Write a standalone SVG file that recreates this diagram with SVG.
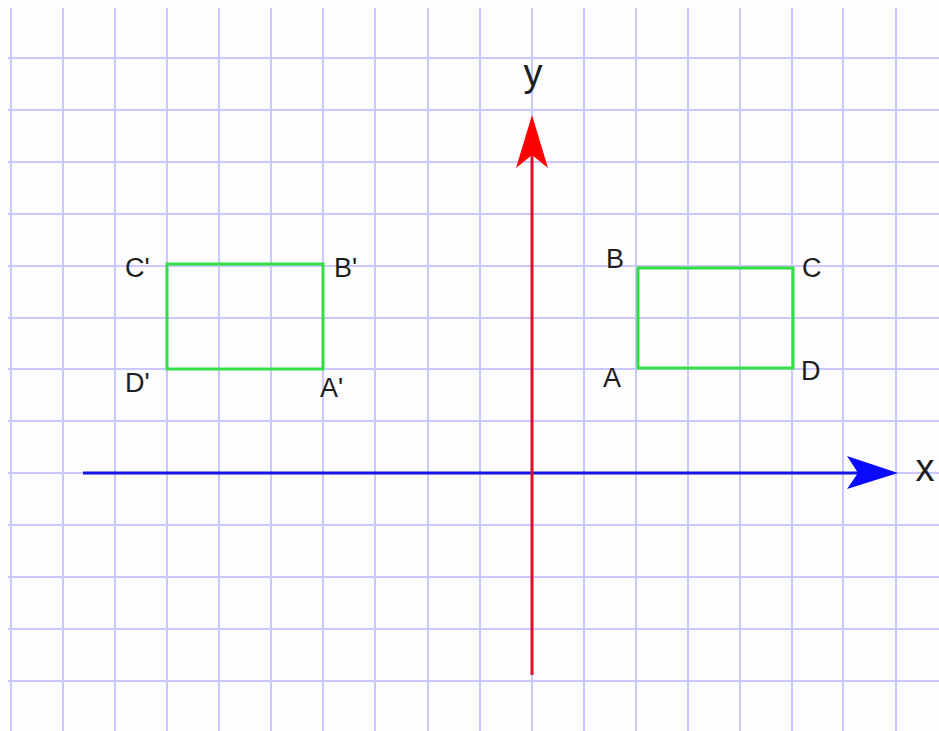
<svg xmlns="http://www.w3.org/2000/svg" width="939" height="731" viewBox="0 0 939 731">
  <style>
    .grid line { stroke: #c9c9ff; stroke-width: 2; }
    .rect { fill: none; stroke: #33dd44; stroke-width: 3; }
    .lbl { font-family: "Liberation Sans", Arial, sans-serif; font-size: 27px; fill: #1e1e1e; }
    .axlbl { font-family: "Liberation Sans", Arial, sans-serif; font-size: 38px; fill: #1e1e1e; text-anchor: middle; }
  </style>
  <rect width="939" height="731" fill="#fdfdff"/>
  <g id="grid" class="grid">
    <line x1="11" y1="8" x2="11" y2="731"/>
    <line x1="63" y1="8" x2="63" y2="731"/>
    <line x1="115" y1="8" x2="115" y2="731"/>
    <line x1="167" y1="8" x2="167" y2="731"/>
    <line x1="219" y1="8" x2="219" y2="731"/>
    <line x1="271" y1="8" x2="271" y2="731"/>
    <line x1="323" y1="8" x2="323" y2="731"/>
    <line x1="375" y1="8" x2="375" y2="731"/>
    <line x1="428" y1="8" x2="428" y2="731"/>
    <line x1="480" y1="8" x2="480" y2="731"/>
    <line x1="532" y1="8" x2="532" y2="731"/>
    <line x1="584" y1="8" x2="584" y2="731"/>
    <line x1="636" y1="8" x2="636" y2="731"/>
    <line x1="688" y1="8" x2="688" y2="731"/>
    <line x1="740" y1="8" x2="740" y2="731"/>
    <line x1="792" y1="8" x2="792" y2="731"/>
    <line x1="843" y1="8" x2="843" y2="731"/>
    <line x1="896" y1="8" x2="896" y2="731"/>
    <line x1="8" y1="58" x2="939" y2="58"/>
    <line x1="8" y1="110" x2="939" y2="110"/>
    <line x1="8" y1="162" x2="939" y2="162"/>
    <line x1="8" y1="214" x2="939" y2="214"/>
    <line x1="8" y1="266" x2="939" y2="266"/>
    <line x1="8" y1="318" x2="939" y2="318"/>
    <line x1="8" y1="369" x2="939" y2="369"/>
    <line x1="8" y1="421" x2="939" y2="421"/>
    <line x1="8" y1="473" x2="939" y2="473"/>
    <line x1="8" y1="525" x2="939" y2="525"/>
    <line x1="8" y1="577" x2="939" y2="577"/>
    <line x1="8" y1="629" x2="939" y2="629"/>
    <line x1="8" y1="681" x2="939" y2="681"/>
  </g>
  <g id="connectors">
    <g id="x-axis">
      <line x1="83" y1="473" x2="860" y2="473" stroke="#1414ee" stroke-width="3"/>
      <polygon points="898,473 847,456 858,473 847,489" fill="#0a0aff"/>
      <text class="axlbl" x="925" y="481">x</text>
    </g>
    <g id="y-axis">
      <line x1="532" y1="675" x2="532" y2="155" stroke="#e0102a" stroke-width="3"/>
      <polygon points="532,115 516,168 532,155 548,168" fill="#ff0000"/>
      <text class="axlbl" x="533" y="86">y</text>
    </g>
  </g>
  <g id="ABCD">
    <rect class="rect" x="638" y="268" width="155" height="100"/>
    <text class="lbl" x="606" y="268">B</text>
    <text class="lbl" x="802" y="277">C</text>
    <text class="lbl" x="603" y="387">A</text>
    <text class="lbl" x="801" y="380">D</text>
  </g>
  <g id="ABCD-prime">
    <rect class="rect" x="167" y="264" width="156" height="105"/>
    <text class="lbl" x="125" y="277">C'</text>
    <text class="lbl" x="334" y="277">B'</text>
    <text class="lbl" x="125" y="392">D'</text>
    <text class="lbl" x="320" y="397">A'</text>
  </g>
</svg>
